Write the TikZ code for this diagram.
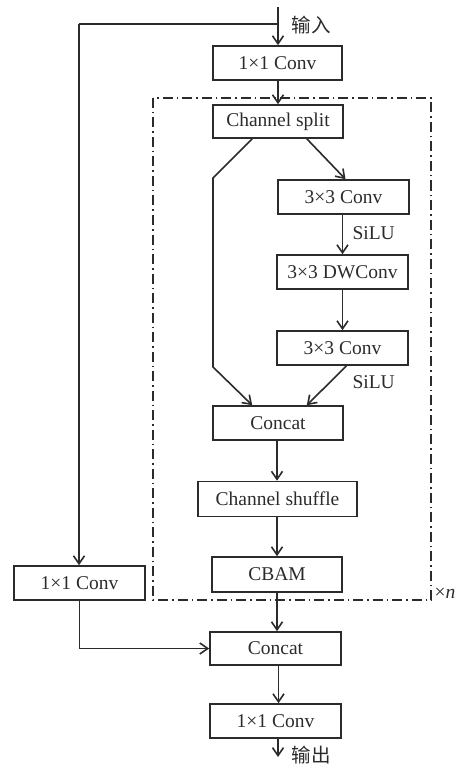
\documentclass[tikz,border=0pt]{standalone}
\usepackage{fontspec}
\setmainfont{Liberation Serif}
\newfontfamily\cjk{Noto Sans CJK SC}
\usetikzlibrary{arrows.meta,calc}
\definecolor{ink}{HTML}{2B2B2B}
\begin{document}
\begin{tikzpicture}[x=1pt,y=-1pt,
  every node/.style={font=\fontsize{19.5}{23}\selectfont, text=ink},
  blk/.style={draw=ink, line width=1.6pt, rectangle, minimum height=34pt, inner sep=0pt},
  arr/.style={draw=ink, line width=1.6pt, -{Straight Barb[length=8pt,width=11pt,line width=1.6pt]}},
  ln/.style={draw=ink, line width=1.6pt},
  frame/.style={draw=ink, line width=1.3pt, dash pattern=on 10pt off 4pt on 1.5pt off 4pt}]
\useasboundingbox (0,0) rectangle (460,767);

\draw[frame] (153,98) rectangle (431,600);

\node[blk, minimum width=129pt] (in1) at (277.5,63) {1×1 Conv};
\node[blk, minimum width=130pt, minimum height=33pt] (split) at (278,121.5) {Channel split};
\node[blk, minimum width=131pt] (c3a) at (343.5,197) {3×3 Conv};
\node[blk, minimum width=131pt] (dw) at (342.5,272) {3×3 DWConv};
\node[blk, minimum width=131pt] (c3b) at (342.5,348) {3×3 Conv};
\node[blk, minimum width=130pt] (cat1) at (278,423) {Concat};
\node[blk, minimum width=159pt, minimum height=35pt] (shuf) at (277.5,499) {Channel shuffle};
\node[blk, minimum width=130pt, minimum height=35pt] (cbam) at (277,574.5) {CBAM};
\node[blk, minimum width=131pt, minimum height=33pt] (cat2) at (275.5,648.5) {Concat};
\node[blk, minimum width=131pt] (out) at (275.5,721) {1×1 Conv};
\node[blk, minimum width=131pt] (left) at (79.5,583) {1×1 Conv};

\coordinate (top) at (278,7);
\coordinate (fork) at (278,24);
\coordinate (bend) at (79,24);
\coordinate (end) at (278,757);

\node[anchor=west] (lin) at (288,25) {\cjk 输入};
\node[anchor=west, inner ysep=0pt] (lout) at (288,755) {\cjk 输出};
\node[anchor=west] (s1) at (349,233) {SiLU};
\node[anchor=west] (s2) at (349,382) {SiLU};
\node[anchor=west] (xn) at (431,593) {×\textit{n}};

\draw[arr] (top) -- (in1.north -| top);
\draw[ln] (fork) -- (bend);
\draw[arr] (bend) -- (left.north -| bend);
\draw[arr] (in1.south -| top) -- (split.north -| top);

\coordinate (l1) at ([xshift=40pt]split.south west);
\coordinate (l2) at (213,178);
\coordinate (l3) at (213,367);
\coordinate (l4) at ([xshift=40pt]cat1.north west);
\draw[arr] (l1) -- (l2) -- (l3) -- (l4);

\draw[arr] ([xshift=-37pt]split.south east) -- ([xshift=2pt]c3a.north);
\draw[arr] ($(c3a.south)+(-1,0)$) -- ($(dw.north)+(0,0)$);
\draw[arr] (dw.south) -- (c3b.north);
\draw[arr] ([xshift=4pt]c3b.south) -- ([xshift=-37pt]cat1.north east);
\draw[arr] ($(cat1.south)+(-1,0)$) -- ($(cat1.south |- shuf.north)+(-1,0)$);
\draw[arr] (shuf.south -| cbam) -- (cbam.north);
\draw[arr] (cbam.south) -- (cbam.south |- cat2.north);
\draw[arr] ($(cat2.south)+(3,0)$) -- ($(cat2.south |- out.north)+(3,0)$);
\draw[arr] (out.south -| end) -- (end);
\draw[arr] (left.south) |- (cat2.west);
\end{tikzpicture}
\end{document}
